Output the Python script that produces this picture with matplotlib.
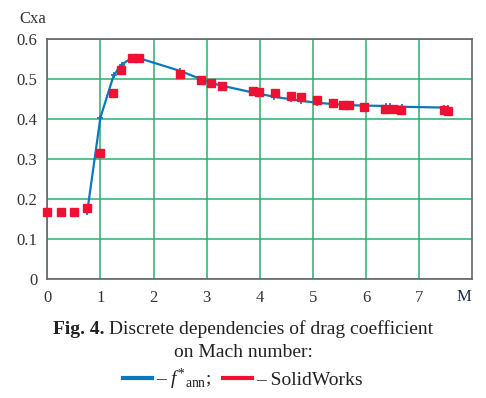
import matplotlib
matplotlib.use('Agg')
import matplotlib.pyplot as plt
from matplotlib.lines import Line2D

plt.rcParams['font.family'] = ['Liberation Serif', 'DejaVu Serif']
plt.rcParams['mathtext.fontset'] = 'custom'
plt.rcParams['mathtext.rm'] = 'Liberation Serif'
plt.rcParams['mathtext.it'] = 'Liberation Serif:italic'
plt.rcParams['mathtext.bf'] = 'Liberation Serif:bold'

# f*ann (neural network) curve
ann_m = [0.75, 1.0, 1.25, 1.4, 1.6, 1.7, 2.5, 2.9, 3.08, 3.28, 3.9, 3.98, 4.27,
         4.58, 4.77, 5.08, 5.37, 5.58, 5.68, 5.97, 6.37, 6.46, 6.67, 7.46, 7.55]
ann_cx = [0.166, 0.404, 0.510, 0.537, 0.554, 0.554, 0.521, 0.500, 0.491, 0.484,
          0.466, 0.464, 0.456, 0.450, 0.446, 0.441, 0.438, 0.436, 0.435, 0.434,
          0.433, 0.432, 0.431, 0.429, 0.428]

# SolidWorks points
sw_m = [0.0, 0.25, 0.5, 0.75, 0.99, 1.24, 1.39, 1.6, 1.72, 2.5, 2.89, 3.08, 3.28,
        3.88, 3.98, 4.28, 4.58, 4.77, 5.08, 5.37, 5.56, 5.68, 5.97, 6.35, 6.5,
        6.66, 7.47, 7.55]
sw_cx = [0.168, 0.168, 0.168, 0.177, 0.316, 0.466, 0.524, 0.554, 0.554, 0.514,
         0.499, 0.490, 0.483, 0.471, 0.468, 0.466, 0.458, 0.456, 0.449, 0.441,
         0.436, 0.436, 0.431, 0.426, 0.426, 0.423, 0.424, 0.421]

x_ticks = [0, 1, 2, 3, 4, 5, 6, 7]
y_ticks = [0, 0.1, 0.2, 0.3, 0.4, 0.5, 0.6]
y_labels = ['0', '0.1', '0.2', '0.3', '0.4', '0.5', '0.6']

blue = '#0b78bd'
red = '#ee1133'
grid_green = '#2fae6e'

fig = plt.figure(figsize=(4.86, 3.98), dpi=100)
ax = fig.add_axes([0.0973, 0.300, 0.8745, 0.601])

ax.plot(ann_m, ann_cx, color=blue, lw=1.6, marker='+', ms=4, mew=1.2, zorder=3)
ax.plot(sw_m, sw_cx, ls='none', marker='s', ms=5.5, color=red, zorder=4,
        clip_on=False)

ax.set_xlim(0, 8)
ax.set_ylim(0, 0.6)
ax.set_xticks(x_ticks)
ax.set_xticklabels([str(t) for t in x_ticks])
ax.set_yticks(y_ticks)
ax.set_yticklabels(y_labels)
ax.tick_params(length=0, labelsize=12, colors='#333333')
ax.tick_params(axis='x', pad=8)
ax.tick_params(axis='y', pad=7)
ax.grid(True, color=grid_green, lw=1.1)
ax.set_axisbelow(True)
for s in ax.spines.values():
    s.set_color('#666666')
    s.set_linewidth(1.2)

ax.text(-0.035, 1.05, 'Cxa', transform=ax.transAxes, ha='center', va='bottom',
        fontsize=12, color='#333333')
ax.text(7.85, -0.026, 'M', ha='center', va='top', fontsize=12, color='#1c2a48')

# caption, first line: bold "Fig. 4." + regular text, centred together
r = fig.canvas.get_renderer()
t1 = fig.text(0, 0.172, 'Fig. 4.', fontweight='bold', fontsize=14,
              va='center', color='#222222')
t2 = fig.text(0, 0.172, ' Discrete dependencies of drag coefficient',
              fontsize=14, va='center', color='#222222')
w1 = t1.get_window_extent(r).width / fig.bbox.width
w2 = t2.get_window_extent(r).width / fig.bbox.width
x0 = 0.5 - (w1 + w2) / 2
t1.set_x(x0)
t2.set_x(x0 + w1)
fig.text(0.5, 0.115, 'on Mach number:', ha='center', va='center', fontsize=14,
         color='#222222')

handles = [Line2D([], [], color=blue, lw=3), Line2D([], [], color=red, lw=3)]
labels = [r'– $f^{*}{}_{\rm ann}$;', '– SolidWorks']
fig.legend(handles, labels, loc='center', bbox_to_anchor=(0.5, 0.047), ncol=2,
           frameon=False, fontsize=14, handlelength=1.5, handletextpad=0.2,
           columnspacing=0.6, borderpad=0, labelcolor='#222222')

fig.savefig('out.png', dpi=100)
